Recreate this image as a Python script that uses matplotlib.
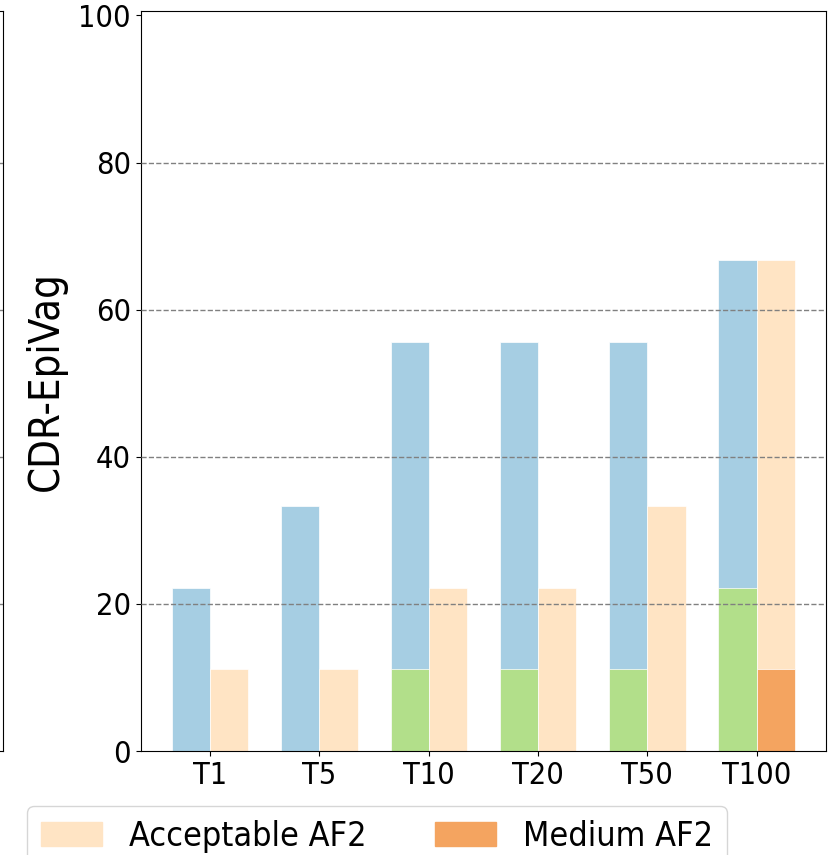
import matplotlib
matplotlib.use("Agg")
import matplotlib.pyplot as plt
import numpy as np
from matplotlib.patches import Patch

plt.rcParams["font.family"] = ["DejaVu Sans"]
plt.rcParams["font.stretch"] = "condensed"

categories = ["T1", "T5", "T10", "T20", "T50", "T100"]
acceptable_ours = [22.2, 33.3, 55.6, 55.6, 55.6, 66.7]
medium_ours     = [0.0, 0.0, 11.1, 11.1, 11.1, 22.2]
acceptable_af2  = [11.1, 11.1, 22.2, 22.2, 33.3, 66.7]
medium_af2      = [0.0, 0.0, 0.0, 0.0, 0.0, 11.1]
grid_levels     = [20, 40, 60, 80]

c_acc_ours = "#a6cee3"
c_med_ours = "#b2df8a"
c_acc_af2 = "#ffe4c4"
c_med_af2 = "#f4a460"

x = np.arange(len(categories))
w = 0.35

fig = plt.figure(figsize=(8.38, 8.55), dpi=100)

# neighbouring panel, only its right edge is visible
ax0 = fig.add_axes([-0.6, 0.1216, 0.6 + 3 / 838, 0.8655])
ax0.set_ylim(0, 100.6)
ax0.tick_params(labelleft=False, labelbottom=False, left=False, bottom=False)
for g in grid_levels:
    ax0.axhline(g, linestyle="--", color="gray", linewidth=1)

ax = fig.add_axes([0.168, 0.1216, 0.8177, 0.8655])
ax.bar(x - w / 2, acceptable_ours, w, color=c_acc_ours, edgecolor="white", linewidth=0.5)
ax.bar(x - w / 2, medium_ours, w, color=c_med_ours, edgecolor="white", linewidth=0.5)
ax.bar(x + w / 2, acceptable_af2, w, color=c_acc_af2, edgecolor="white", linewidth=0.5)
ax.bar(x + w / 2, medium_af2, w, color=c_med_af2, edgecolor="white", linewidth=0.5)
for g in grid_levels:
    ax.axhline(g, linestyle="--", color="gray", linewidth=1, zorder=3)

ax.set_ylim(0, 100.6)
ax.set_yticks([0, 20, 40, 60, 80, 100])
ax.set_xticks(x)
ax.set_xticklabels(categories)
ax.tick_params(labelsize=22)
ax.set_ylabel("CDR-EpiVag", fontsize=30, labelpad=8)

handles = [
    Patch(color=c_acc_af2, label="Acceptable AF2"),
    Patch(color=c_med_af2, label="Medium AF2"),
]
fig.legend(handles=handles, loc="upper right", bbox_to_anchor=(727 / 838, 1 - 806 / 855),
           ncol=2, fontsize=24.5, handlelength=1.8, borderaxespad=0)

fig.savefig("out.png", dpi=100)
